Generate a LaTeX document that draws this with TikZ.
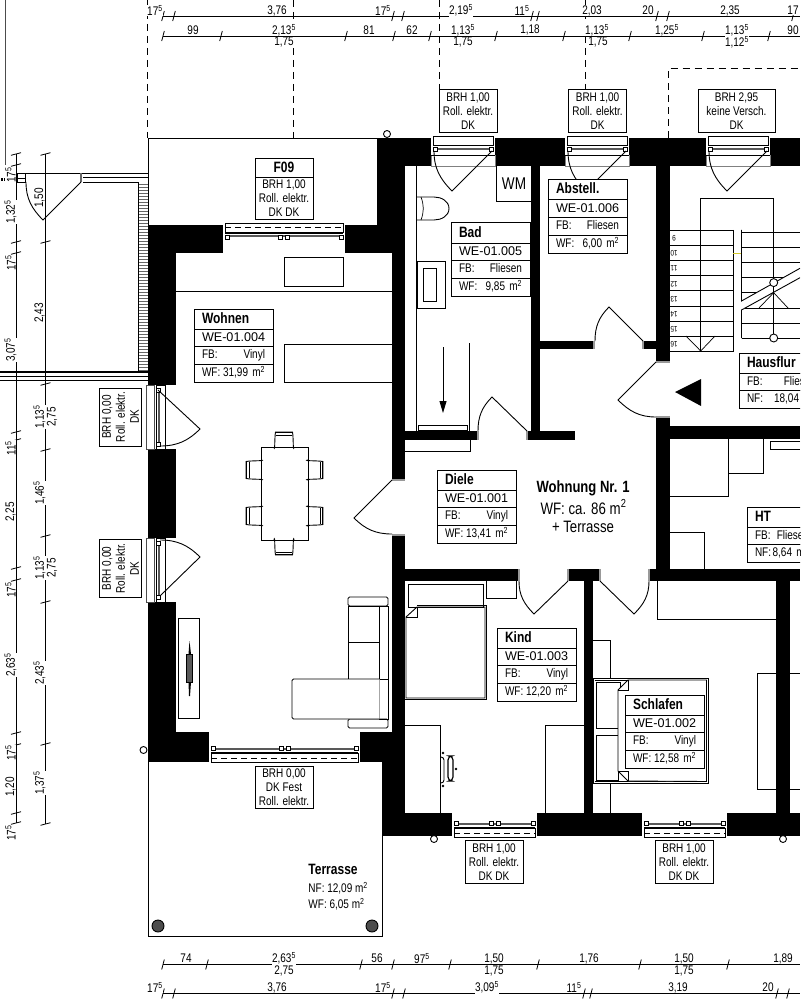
\documentclass[tikz,border=0pt]{standalone}
\usepackage{fontspec}
\setmainfont[FakeStretch=0.8]{Liberation Sans}
\newfontfamily\widefont{Liberation Sans}
\usetikzlibrary{positioning,arrows.meta}

\newcommand{\ff}{\textsuperscript{5}}
\newcommand{\qm}{m\textsuperscript{2}}

% window with one wing in the top wall
\newcommand{\topwin}[1]{
    \fill[white] (#1-32,138) rectangle (#1+32,166);
    \draw[thin] (#1-30,136) rectangle (#1+30,145);
    \draw[gray,thin] (#1-32,155) -- (#1-32,166) -- (#1+32,166) -- (#1+32,155);
    \draw[thin] (#1-32,155) -- (#1+32,155);
    \draw[line width=2.5pt,darkband] (#1-27,149) -- (#1+27,149);
    \foreach \sgn in {-1,1} \draw[thin,fill=white] (#1+\sgn*28-2,147) rectangle (#1+\sgn*28+2,151);
    \draw (#1-29,151) to [out=-90,in=135] (#1-11,191) -- (#1+29,151);
}
% window with two wings: centre, half width, outer face, direction to the room
\newcommand{\duowin}[4]{
    \fill[white] (#1-#2,#3) rectangle (#1+#2,#3+#4*30);
    \draw[thin] (#1-#2+2,#3) rectangle (#1+#2-2,#3+#4*9);
    \draw[thin,dashed,dash pattern=on 6pt off 4pt] (#1-#2+2,#3+#4*4) -- (#1+#2-2,#3+#4*4);
    \draw[line width=2pt,darkband] (#1-#2+4,#3+#4*13) -- (#1+#2-4,#3+#4*13);
    \draw[thin] (#1-#2+2,#3+#4*10) -- (#1+#2-2,#3+#4*10);
    \foreach \sgn in {-1,1} {
        \draw[thin,fill=white] (#1+\sgn*3.5-2,#3+#4*14-2) rectangle (#1+\sgn*3.5+2,#3+#4*14+2);
        \draw[thin,fill=white] (#1+\sgn*#2-\sgn*4-2,#3+#4*14-2) rectangle (#1+\sgn*#2-\sgn*4+2,#3+#4*14+2);
    }
}
% room tag with title, number, floor and area
\newcommand{\roomtag}[7]{
    \node[tagtitle,anchor=north west] (#1t) at (#2,#3) {#4};
    \node[tagrow,below=0pt of #1t] (#1n) {\widefont\fontsize{12.6}{14}\selectfont\mbox{#5}};
    \node[tagrow,below=0pt of #1n] (#1f) {FB:\hfill #6};
    \node[tagrow,below=0pt of #1f] (#1w) {WF:\hfill #7};
}
% shorter tag of the shared rooms, last argument is the text width of its rows
\newcommand{\hallstag}[7]{
    \node[tagtitle,anchor=north west,text width=#7] (#1t) at (#2,#3) {#4};
    \node[tagrow,text width=#7,below=0pt of #1t] (#1f) {FB:\hfill #5};
    \node[tagrow,text width=#7,below=0pt of #1f] (#1w) {NF:\hfill \mbox{#6}};
}

\begin{document}
\begin{tikzpicture}[
        x=1pt,y=-1pt,
        line width=0.9pt,
        every node/.append style={font=\fontsize{12.5}{14}\selectfont},
        thin/.style={line width=0.7pt},
        darkband/.style={color=black!65},
        wall/.style={fill=black},
        tagtitle/.style={draw,fill=white,line width=1pt,outer sep=0pt,inner xsep=8pt,inner ysep=0pt,
            text width=63pt,minimum height=20pt,text height=10pt,text depth=2pt,align=left,
            font=\fontsize{15}{16}\selectfont\bfseries},
        tagrow/.style={draw,fill=white,line width=1pt,outer sep=0pt,inner xsep=8pt,inner ysep=0pt,
            text width=63pt,minimum height=17.7pt,text height=9pt,text depth=2.5pt,align=left},
        winlabel/.style={draw,fill=white,line width=0.9pt,align=center,inner sep=0pt,outer sep=0pt,
            minimum width=58pt,minimum height=42.5pt},
        dimlab/.style={fill=white,inner sep=0.4pt},
        rotlab/.style={rotate=90,inner sep=0.4pt,fill=white},
        dim/.style={line width=0.8pt},
        stepnum/.style={rotate=180,inner sep=0pt,font=\fontsize{8}{9}\selectfont}
    ]
    \useasboundingbox (0,0) rectangle (800,1000);
    \clip (0,0) rectangle (800,1000);

    % dashed axes
    \draw[dashed,dash pattern=on 7pt off 5pt] (147,0) -- (147,138);
    \draw[dashed,dash pattern=on 7pt off 5pt] (293,0) -- (293,138);
    \draw[dashed,dash pattern=on 7pt off 5pt] (439,0) -- (439,90);
    \draw[dashed,dash pattern=on 7pt off 5pt] (585,0) -- (585,90);
    \draw[dashed,dash pattern=on 7pt off 5pt] (668.5,138) -- (668.5,68) -- (800,68);

    % outlines of balcony and terrace
    \draw (148,225) -- (148,138) -- (377,138);
    \draw (382,761) -- (382,936) -- (148,936) -- (148,761) -- (382,761);
    \fill[black!70] (158,926) circle (6);
    \draw (158,926) circle (6);
    \fill[black!70] (372,926) circle (6);
    \draw (372,926) circle (6);

    % walls
    \foreach \xa/\ya/\xb/\yb in {
        148/225/223/253, 345/225/405/253, 377/138/800/166, 377/138/405/253,
        392/253/405/480, 392/535/405/732, 148/225/176/385, 148/449/176/538,
        148/600/176/761, 148/732/209/761, 360/732/405/761, 382/761/405/836,
        382/813/800/836, 531/166/540/440, 540/341/594/349, 643/341/656/349,
        656/166/670/362, 656/417/670/581, 670/426/800/439, 405/431/478/440,
        527/431/575/440, 405/569/519/581, 568/569/600/581, 649/569/800/581,
        584/581/593/813, 776/581/790/813}
        \fill[wall] (\xa,\ya) rectangle (\xb,\yb);

    % wall ends
    \foreach \xa/\ya/\xb/\yb in {
        656/362/670/362, 656/417/670/417, 478/431/478/440, 527/431/527/440,
        594/341/594/349, 643/341/643/349, 519/569/519/581, 568/569/568/581,
        600/569/600/581, 649/569/649/581, 392/480/405/480, 392/535/405/535}
        \draw[black!40,line width=1.4pt] (\xa,\ya) -- (\xb,\yb);

    % windows
    \foreach \cx in {463,597,738} {\topwin{\cx}}
    \duowin{284}{61}{223}{1}
    \duowin{284.5}{75.5}{762}{-1}
    \duowin{494.5}{42.5}{837}{-1}
    \duowin{684.5}{42.5}{837}{-1}

    % doors of the living room
    \foreach \y in {385,538} {
        \fill[white] (146,\y) rectangle (176,\y+64);
        \draw[thin,black!70] (146,\y) rectangle (154,\y+64);
        \draw[thin] (156,\y) rectangle (165,\y+64);
        \draw[line width=2pt,darkband] (159,\y+3) -- (159,\y+61);
        \draw[thin,fill=white] (156,\y+3) rectangle (160,\y+7);
        \draw[thin,fill=white] (156,\y+57) rectangle (160,\y+61);
    }
    \draw (158,390) -- (200,429) to [out=-135,in=0] (160,446);
    \draw (160,540) to [out=0,in=135] (200,557) -- (160,596);

    % inner doors
    \draw (478,431) to [out=90,in=225] (492,397) -- (527,431);
    \draw (595,341) to [out=90,in=225] (609,307) -- (643,341);
    \draw (392,480) -- (354,518) to [out=-45,in=180] (392,534);
    \draw (656,362) -- (618,400) to [out=-45,in=180] (656,417);
    \draw (519,581) to [out=-90,in=135] (534,614) -- (568,581);
    \draw (600,581) -- (634,614) to [out=45,in=-90] (649,581);
    \fill (675,392) -- (701,379) -- (701,406) -- cycle;

    % balcony
    \draw[line width=1.4pt,black!70] (5.5,0) -- (5.5,165);
    \fill (1,178) rectangle (3,181);
    \fill (3.8,178) rectangle (5.8,181);
    \foreach \y in {184,187,...,370} \draw[thin,black!60] (138,\y) -- (148,\y);
    \draw (17,173) -- (148,173);
    \draw[thin] (17,178) -- (25,178);
    \draw[thin] (17,173) rectangle (25,182);
    \draw[black!60,line width=1.5pt] (81,173) -- (81,182);
    \draw[thin] (83,177.5) -- (148,177.5);
    \draw (83,182) -- (138,182) -- (138,372);
    \draw (26,182) to [out=-90,in=135] (43,220) -- (81,182);
    \draw[line width=1.4pt] (0,372) -- (148,372);
    \draw[thin] (0,376) -- (148,376);
    \draw[thin] (0,380) -- (148,380);

    % house columns
    \foreach \x/\y in {387/134,143.5/750,434/839,783/839} \draw[fill=white] (\x,\y) circle (3.5);

    % living room furniture
    \draw (176,291.5) -- (392,291.5);
    \draw[fill=white] (284,257) rectangle (343,286);
    \draw (392,344) -- (284,344) -- (284,382) -- (392,382);
    \draw (261,447) rectangle (308,540);
    \foreach \rot/\cx/\cy in {0/284/447,180/284/540,90/261/470,90/261/516,-90/308/470,-90/308/516}
        {\begin{scope}[shift={(\cx,\cy)},rotate=\rot]
            \draw (-10,0) to [out=-80,in=-100] (-8.5,-15) -- (8.5,-15) to [out=-80,in=-100] (10,0);
            \draw[line width=1.4pt] (-8,-14.5) -- (8,-14.5);
            \draw[thin] (-8,-12) -- (8,-12);
        \end{scope}}
    \draw (178,618) rectangle (199,718);
    \fill (189.5,641) -- (191,654) -- (191,682) -- (190,696) -- (189,696) -- (188.5,682) -- (188.5,654) -- cycle;
    \draw[thin,fill=black!65] (186,654) rectangle (192.5,682);

    % sofa
    \draw[rounded corners=1.5pt] (348,597) rectangle (388,606);
    \draw[rounded corners=1.5pt] (348,719) rectangle (388,728);
    \draw (348,606) rectangle (379.5,679);
    \draw (348,642) -- (379.5,642);
    \draw (379.5,606) rectangle (388,719);
    \draw[fill=white,rounded corners=1.5pt] (379.5,679) -- (292,679) -- (292,719) -- (379.5,719);
    \draw (379.5,679) -- (388,679);

    % bath
    \draw (416,166) -- (416,431);
    \draw (416,197) -- (434,197) to [out=0,in=90] (449,208.5) to [out=-90,in=0] (434,220) -- (416,220);
    \draw[thin] (421,197) to [out=-70,in=70] (421,220);
    \draw (496,166) -- (496,201) -- (531,201);
    \draw (417,261) rectangle (445,308);
    \draw (423,268) rectangle (436,301);
    \draw[line width=1.4pt] (469.5,343) -- (469.5,431);
    \draw[-{Triangle[length=12pt,width=7pt]}] (443,347) -- (443,413);
    \draw[thin] (418,425) rectangle (467,430);
    \draw (405,451) -- (470.5,451) -- (470.5,440);

    % stairs
    \foreach \i in {0,...,8} \draw (670,230+15.2*\i) -- (733,230+15.2*\i);
    \draw (733,230) -- (733,351.6);
    \foreach \y/\n in {238/9,253/10,268/11,284/12,299/13,314/14,329/15,344/16}
        \node[stepnum] (step\n) at (674,\y) {\n};
    \draw[thin,yellow!80!black] (733,253) -- (741.5,253);
    \draw (741.5,230) -- (741.5,301) -- (800,268.3);
    \draw (741.5,338) -- (741.5,310) -- (800,277.7);
    \foreach \y/\x in {232.7/800,247/800,262.7/800,277.4/784,292.7/756} \draw (741.5,\y) -- (\x,\y);
    \draw (745,308) -- (800,308);
    \draw (741.5,323) -- (800,323);
    \draw (741.5,338) -- (800,338);
    \draw (700.7,351.6) -- (700.7,198) -- (773.7,198) -- (773.7,334);
    \draw[thin] (686,336) -- (700.7,351) -- (715,336);
    \draw[thin] (759,308) -- (773.7,292.7) -- (788,308);
    \draw[fill=white] (773.7,282.6) circle (4);
    \draw[fill=white] (773.7,338) circle (4);

    % utility room
    \draw (670,496) -- (728,496) -- (728,439);
    \draw (728,473) -- (763,473) -- (763,439);
    \draw (800,441) -- (770,441) -- (770,449) -- (800,449);
    \draw (670,532) -- (704.5,532) -- (704.5,569);

    % bedroom furniture
    \draw (657,581) -- (657,619) -- (776,619);
    \draw (790,673) -- (757,673) -- (757,789) -- (800,789);
    \draw (790,673) -- (800,673);
    \draw (593,640) -- (610,640) -- (610,678);
    \draw (610,783) -- (610,813);
    \draw (593,678.5) rectangle (708,783);
    \draw[thin] (594.5,680) -- (706.5,680) -- (706.5,781.5) -- (594.5,781.5);
    \draw (596,682) rectangle (620,728);
    \draw (596,735) rectangle (618,780);
    \draw[fill=white] (628,680) -- (618,690) -- (618,771) -- (628,781) -- (706.5,781.5) -- (706.5,680) -- cycle;
    \draw[thin] (628,680) -- (628,690) -- (618,690);
    \draw[thin] (628,781) -- (628,771) -- (618,771);

    % child's room furniture
    \draw (408,584) rectangle (483,607);
    \draw (486,581) -- (486,598.7) -- (516,598.7) -- (516,581);
    \draw (417,607) -- (485,607) -- (485,698) -- (406,698) -- (406,617) -- cycle;
    \draw[thin] (417,605.5) -- (486.5,605.5) -- (486.5,699.5) -- (405,699.5);
    \draw[thin] (417,607) -- (417,617) -- (406,617);
    \draw (405,725) -- (440,725) -- (440,813);
    \draw (545.5,813) -- (545.5,725) -- (584,725);
    \draw[rounded corners=3pt] (440,757) -- (444,757) -- (444,783) -- (440,783);
    \draw[rounded corners=4pt,line width=1.2pt] (448,756) rectangle (453,781);
    \fill (443,753) circle (1.4);
    \fill (443,786) circle (1.4);
    \fill (456,769) circle (1.4);

    % room tags
    \roomtag{wohnen}{194}{309}{Wohnen}{WE-01.004}{Vinyl}{31,99 \qm}
    \roomtag{bad}{451}{223}{Bad}{WE-01.005}{Fliesen}{9,85 \qm}
    \roomtag{abstell}{548}{180}{Abstell.}{WE-01.006}{Fliesen}{6,00 \qm}
    \roomtag{diele}{437}{470}{Diele}{WE-01.001}{Vinyl}{13,41 \qm}
    \roomtag{kind}{497}{628}{Kind}{WE-01.003}{Vinyl}{12,20 \qm}
    \roomtag{schlafen}{625}{695}{Schlafen}{WE-01.002}{Vinyl}{12,58 \qm}
    \hallstag{hausflur}{739}{353}{Hausflur}{Fliesen}{18,04 \qm}{69pt}
    \hallstag{ht}{747}{507}{HT}{Fliesen}{8,64 \qm}{54pt}

    % window labels
    \node[winlabel] (winBad) at (468,111) {BRH 1,00\\Roll. elektr.\\DK};
    \node[winlabel] (winAbst) at (597.5,111) {BRH 1,00\\Roll. elektr.\\DK};
    \node[winlabel,minimum width=77pt] (winFlur) at (736.5,111) {BRH 2,95\\keine Versch.\\DK};
    \node[winlabel] (winWohn) at (284,787.5) {BRH 0,00\\DK Fest\\Roll. elektr.};
    \node[winlabel] (winKind) at (494,862) {BRH 1,00\\Roll. elektr.\\DK DK};
    \node[winlabel] (winSchl) at (684,862) {BRH 1,00\\Roll. elektr.\\DK DK};
    \node[winlabel,rotate=90] (winDoorA) at (120.5,417) {BRH 0,00\\Roll. elektr.\\DK};
    \node[winlabel,rotate=90] (winDoorB) at (120.5,568.5) {BRH 0,00\\Roll. elektr.\\DK};
    \node[winlabel,minimum height=19pt,font=\fontsize{15}{16}\selectfont\bfseries] (winF) at (284,167.5) {F09};
    \node[winlabel,below=0pt of winF] (winFb) {BRH 1,00\\Roll. elektr.\\DK DK};

    % free texts
    \node[inner sep=0pt,font=\fontsize{16.3}{17}\selectfont\bfseries] (flatName) at (583,488.5) {Wohnung Nr. 1};
    \node[inner sep=0pt,font=\fontsize{16.6}{17}\selectfont] (flatArea) at (583.5,507) {WF: ca. 86 \qm};
    \node[inner sep=0pt,font=\fontsize{16.5}{17}\selectfont] (flatPlus) at (583,527) {+ Terrasse};
    \node[inner sep=0pt,anchor=west,font=\fontsize{15}{16}\selectfont\bfseries] (terrName) at (308,869) {Terrasse};
    \node[inner sep=0pt,anchor=west] (terrNF) at (308,888) {NF: 12,09 \qm};
    \node[inner sep=0pt,anchor=west] (terrWF) at (308,904) {WF: 6,05 \qm};
    \node[inner sep=0pt,font=\fontsize{17}{18}\selectfont] (wmText) at (514,184) {WM};

    % dimension chains, top and bottom
    \foreach \y in {16,36,964.5,993.5} \draw[dim] (163,\y) -- (800,\y);
    \foreach \x in {163,174,393,403,532,538,657,668,793} \draw[dim] (\x-1.3,21) -- (\x+1.3,11);
    \foreach \x in {163,221,346,394,430,496,564,630,703,769} \draw[dim] (\x-1.3,41) -- (\x+1.3,31);
    \foreach \x in {163,207,361,393,450,538,640,728} \draw[dim] (\x-1.3,969.5) -- (\x+1.3,959.5);
    \foreach \x in {163,174,393,404,584,591,777,788} \draw[dim] (\x-1.3,998.5) -- (\x+1.3,988.5);
    \foreach \x/\lab in {155/{17\ff},277/{3,76},383/{17\ff},461/{2,19\ff},522/{11\ff},592/{2,03},648/{20},730/{2,35},793/{17}}
        \node[dimlab] (topA\x) at (\x,10.5) {\lab};
    \foreach \x/\lab in {193/{99},284/{2,13\ff},369/{81},412/{62},463/{1,13\ff},530/{1,18},597/{1,13\ff},667/{1,25\ff},737/{1,13\ff},793/{90}}
        \node[dimlab] (topB\x) at (\x,30) {\lab};
    \foreach \x/\lab in {284/{1,75},463/{1,75},598/{1,75},737/{1,12\ff}}
        \node[dimlab] (topC\x) at (\x,42.5) {\lab};
    \foreach \x/\lab in {186/{74},284/{2,63\ff},377/{56},422/{97\ff},494/{1,50},589/{1,76},684/{1,50},783/{1,89}}
        \node[dimlab] (botA\x) at (\x,958.5) {\lab};
    \foreach \x/\lab in {284/{2,75},494/{1,75},684/{1,75}}
        \node[dimlab] (botB\x) at (\x,971) {\lab};
    \foreach \x/\lab in {155/{17\ff},277/{3,76},383/{17\ff},487/{3,09\ff},574/{11\ff},678/{3,19},768/{20}}
        \node[dimlab] (botC\x) at (\x,987.5) {\lab};

    % dimension chains, left
    \draw[dim] (16,154) -- (16,823);
    \draw[dim] (45.5,154) -- (45.5,824);
    \foreach \y in {154,165,242,253,432,440,568,580,733,745,813,823} \draw[dim] (11,\y+1.3) -- (21,\y-1.3);
    \foreach \y in {154,242,384,450,536,602,744,824} \draw[dim] (40.5,\y+1.3) -- (50.5,\y-1.3);
    \foreach \y/\lab in {175/{17\ff},212/{1,32\ff},263/{17\ff},350/{3,07\ff},448/{11\ff},512/{2,25},590/{17\ff},665/{2,63\ff},753/{17\ff},787/{1,20},833/{17\ff}}
        \node[rotlab] (leftA\y) at (10.5,\y) {\lab};
    \foreach \y/\lab in {198/{1,50},313/{2,43},417/{1,13\ff},493/{1,46\ff},568/{1,13\ff},673/{2,43\ff},783/{1,37\ff}}
        \node[rotlab] (leftB\y) at (39.5,\y) {\lab};
    \foreach \y/\lab in {417/{2,75},568/{2,75}}
        \node[rotlab] (leftC\y) at (52,\y) {\lab};
\end{tikzpicture}
\end{document}
